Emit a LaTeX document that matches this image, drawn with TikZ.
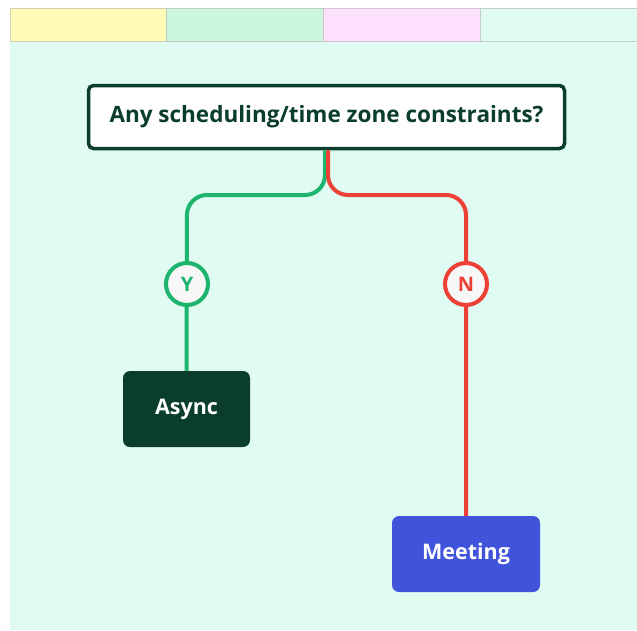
\documentclass[tikz,border=0pt]{standalone}
\usepackage{fontspec}
\setmainfont{Open Sans}
\begin{document}
\begin{tikzpicture}[x=1pt,y=-1pt,
  qbox/.style={draw=darkg, line width=3.5pt, fill=white, rounded corners=5pt, minimum width=476pt, minimum height=63pt, font=\fontsize{22.5}{26}\selectfont\bfseries, text=darkg},
  leaf/.style={rounded corners=7pt, minimum width=#1, minimum height=76pt, font=\fontsize{21.5}{25}\selectfont\bfseries, text=white},
  badge/.style={circle, draw=#1, line width=4pt, fill=white!97!black, minimum size=42pt, inner sep=0pt, font=\fontsize{20}{22}\selectfont\bfseries, text=#1},
  conn/.style={draw=#1, line width=4pt, rounded corners=20pt}
]
\definecolor{darkg}{HTML}{0B3D2C}
\definecolor{mint}{HTML}{DFFBF2}
\definecolor{yel}{HTML}{FFFCBA}
\definecolor{grn}{HTML}{CDF7DD}
\definecolor{pnk}{HTML}{FDE0FC}
\definecolor{ygreen}{HTML}{1DB46E}
\definecolor{nred}{HTML}{EE4135}
\definecolor{blu}{HTML}{4054DB}
\useasboundingbox[fill=white] (0,0) rectangle (637,630);
\fill[mint] (10,8) rectangle (637,630);
\filldraw[fill=yel, draw=yel!70!black!60, line width=0.6pt] (10,8) rectangle (166,41);
\filldraw[fill=grn, draw=grn!70!black!60, line width=0.6pt] (166,8) rectangle (323,41);
\filldraw[fill=pnk, draw=pnk!70!black!60, line width=0.6pt] (323,8) rectangle (480,41);
\filldraw[fill=mint, draw=mint!70!black!60, line width=0.6pt] (480,8) rectangle (640,41);
\node[qbox] (q) at (326.5,117) {\raisebox{-2pt}{Any scheduling/time zone constraints?}};
\node[leaf=127pt, fill=darkg] (async) at (186.5,409) {\raisebox{-2pt}{Async}};
\node[leaf=148pt, fill=blu] (meeting) at (466,554) {\raisebox{-2pt}{Meeting}};
\coordinate (gy) at (187,195);
\coordinate (rn) at (466,195);
\draw[conn=ygreen] ([xshift=-1.5pt]q.south) |- (gy) -- (async.north);
\draw[conn=nred] ([xshift=1.5pt]q.south) |- (rn) -- (meeting.north);
\node[badge=ygreen] (y) at (187,284) {Y};
\node[badge=nred] (n) at (466,284) {N};
\end{tikzpicture}
\end{document}
